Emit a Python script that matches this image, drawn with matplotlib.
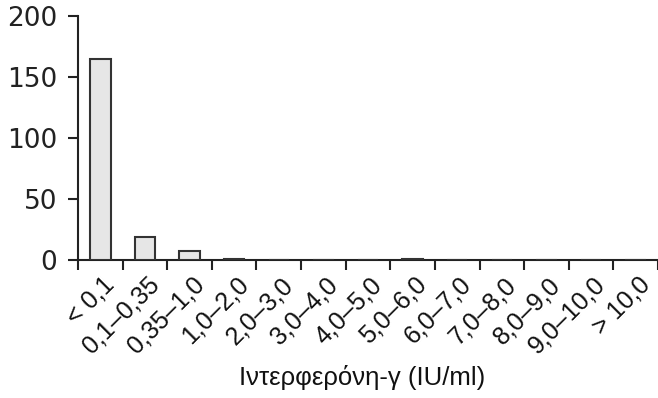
import numpy as np
import matplotlib.pyplot as plt
import matplotlib.transforms as mtransforms

# 区間ラベルと人数
categories = ['< 0,1', '0,1–0,35', '0,35–1,0', '1,0–2,0', '2,0–3,0', '3,0–4,0',
              '4,0–5,0', '5,0–6,0', '6,0–7,0', '7,0–8,0', '8,0–9,0', '9,0–10,0',
              '> 10,0']
counts = [165, 19, 7, 1, 0, 0, 0, 1, 0, 0, 0, 0, 0]
y_ticks = [0, 50, 100, 150, 200]

fig = plt.figure(figsize=(6.58, 3.98), dpi=100)
ax = fig.add_axes([78/658, 138/398, 580/658, 244/398])

x = np.arange(len(categories))
ax.bar(x, counts, width=0.46, color='#e6e6e6', edgecolor='#333333', linewidth=1.5, zorder=3)

ax.set_xlim(-0.5, -0.5 + 580/45)
ax.set_ylim(0, 200)

# 軸の見た目
for side in ['top', 'right']:
    ax.spines[side].set_visible(False)
for side in ['left', 'bottom']:
    ax.spines[side].set_linewidth(1.5)
    ax.spines[side].set_color('#222222')

ax.set_yticks(y_ticks)
ax.set_yticklabels([str(v) for v in y_ticks], fontsize=19, family='DejaVu Sans', color='#222222')
ax.tick_params(axis='y', length=7, width=1.5, color='#222222', pad=8)

# 境界に目盛り、中央にラベル
ax.set_xticks(np.arange(-0.5, len(categories) + 0.5, 1.0), minor=True)
ax.set_xticks(x)
ax.set_xticklabels(categories, rotation=45, ha='right', rotation_mode='anchor',
                   fontsize=18, family='Liberation Sans', color='#111111')
ax.tick_params(axis='x', which='major', length=0, pad=9)
ax.tick_params(axis='x', which='minor', length=7, width=1.5, color='#222222')
offset = mtransforms.ScaledTranslation(2/100, 0, fig.dpi_scale_trans)
for lbl in ax.get_xticklabels():
    lbl.set_transform(lbl.get_transform() + offset)

fig.text(362/658, 20/398, 'Ιντερφερόνη-γ (IU/ml)', ha='center', va='center',
         fontsize=18.5, family='Liberation Sans', color='#111111')

fig.savefig('out.png', dpi=100)
